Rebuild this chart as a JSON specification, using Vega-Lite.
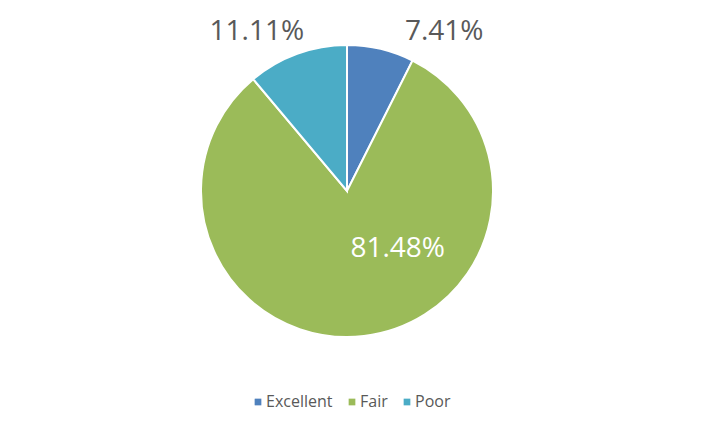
{
  "$schema": "https://vega.github.io/schema/vega-lite/v6.json",
  "width": 694,
  "height": 382,
  "padding": 0,
  "background": "white",
  "config": {"view": {"stroke": null}, "font": "Open Sans"},
  "data": {"values": [
    {"rating": "Excellent", "share": 0.0741},
    {"rating": "Fair", "share": 0.8148},
    {"rating": "Poor", "share": 0.1111}
  ]},
  "encoding": {
    "theta": {"field": "share", "type": "quantitative", "stack": true},
    "order": {"field": "rating", "type": "nominal", "sort": "ascending"},
    "color": {
      "field": "rating", "type": "nominal",
      "scale": {"domain": ["Excellent", "Fair", "Poor"], "range": ["#4F81BD", "#9BBB59", "#4BACC6"]},
      "legend": {
        "title": null, "orient": "none", "legendX": 250, "legendY": 394, "direction": "horizontal",
        "symbolType": "square", "symbolSize": 45, "symbolStrokeWidth": 0,
        "labelFontSize": 16, "labelColor": "#595959", "labelFont": "Open Sans",
        "columnPadding": 11, "labelOffset": 0
      }
    }
  },
  "layer": [
    {"mark": {"type": "arc", "outerRadius": 146, "stroke": "white", "strokeWidth": 2}},
    {
      "mark": {"type": "text", "radius": 170, "dx": 58, "dy": 6, "fontSize": 28},
      "encoding": {
        "text": {"condition": {"test": "datum.rating === 'Excellent'", "field": "share", "type": "quantitative", "format": ".2%"}, "value": ""},
        "color": {"value": "#595959"}
      }
    },
    {
      "mark": {"type": "text", "radius": 170, "dx": -32, "dy": 1, "fontSize": 28},
      "encoding": {
        "text": {"condition": {"test": "datum.rating === 'Poor'", "field": "share", "type": "quantitative", "format": ".2%"}, "value": ""},
        "color": {"value": "#595959"}
      }
    },
    {
      "mark": {"type": "text", "radius": 75, "dx": 42, "dy": -16, "fontSize": 28},
      "encoding": {
        "text": {"condition": {"test": "datum.rating === 'Fair'", "field": "share", "type": "quantitative", "format": ".2%"}, "value": ""},
        "color": {"value": "white"}
      }
    }
  ]
}
